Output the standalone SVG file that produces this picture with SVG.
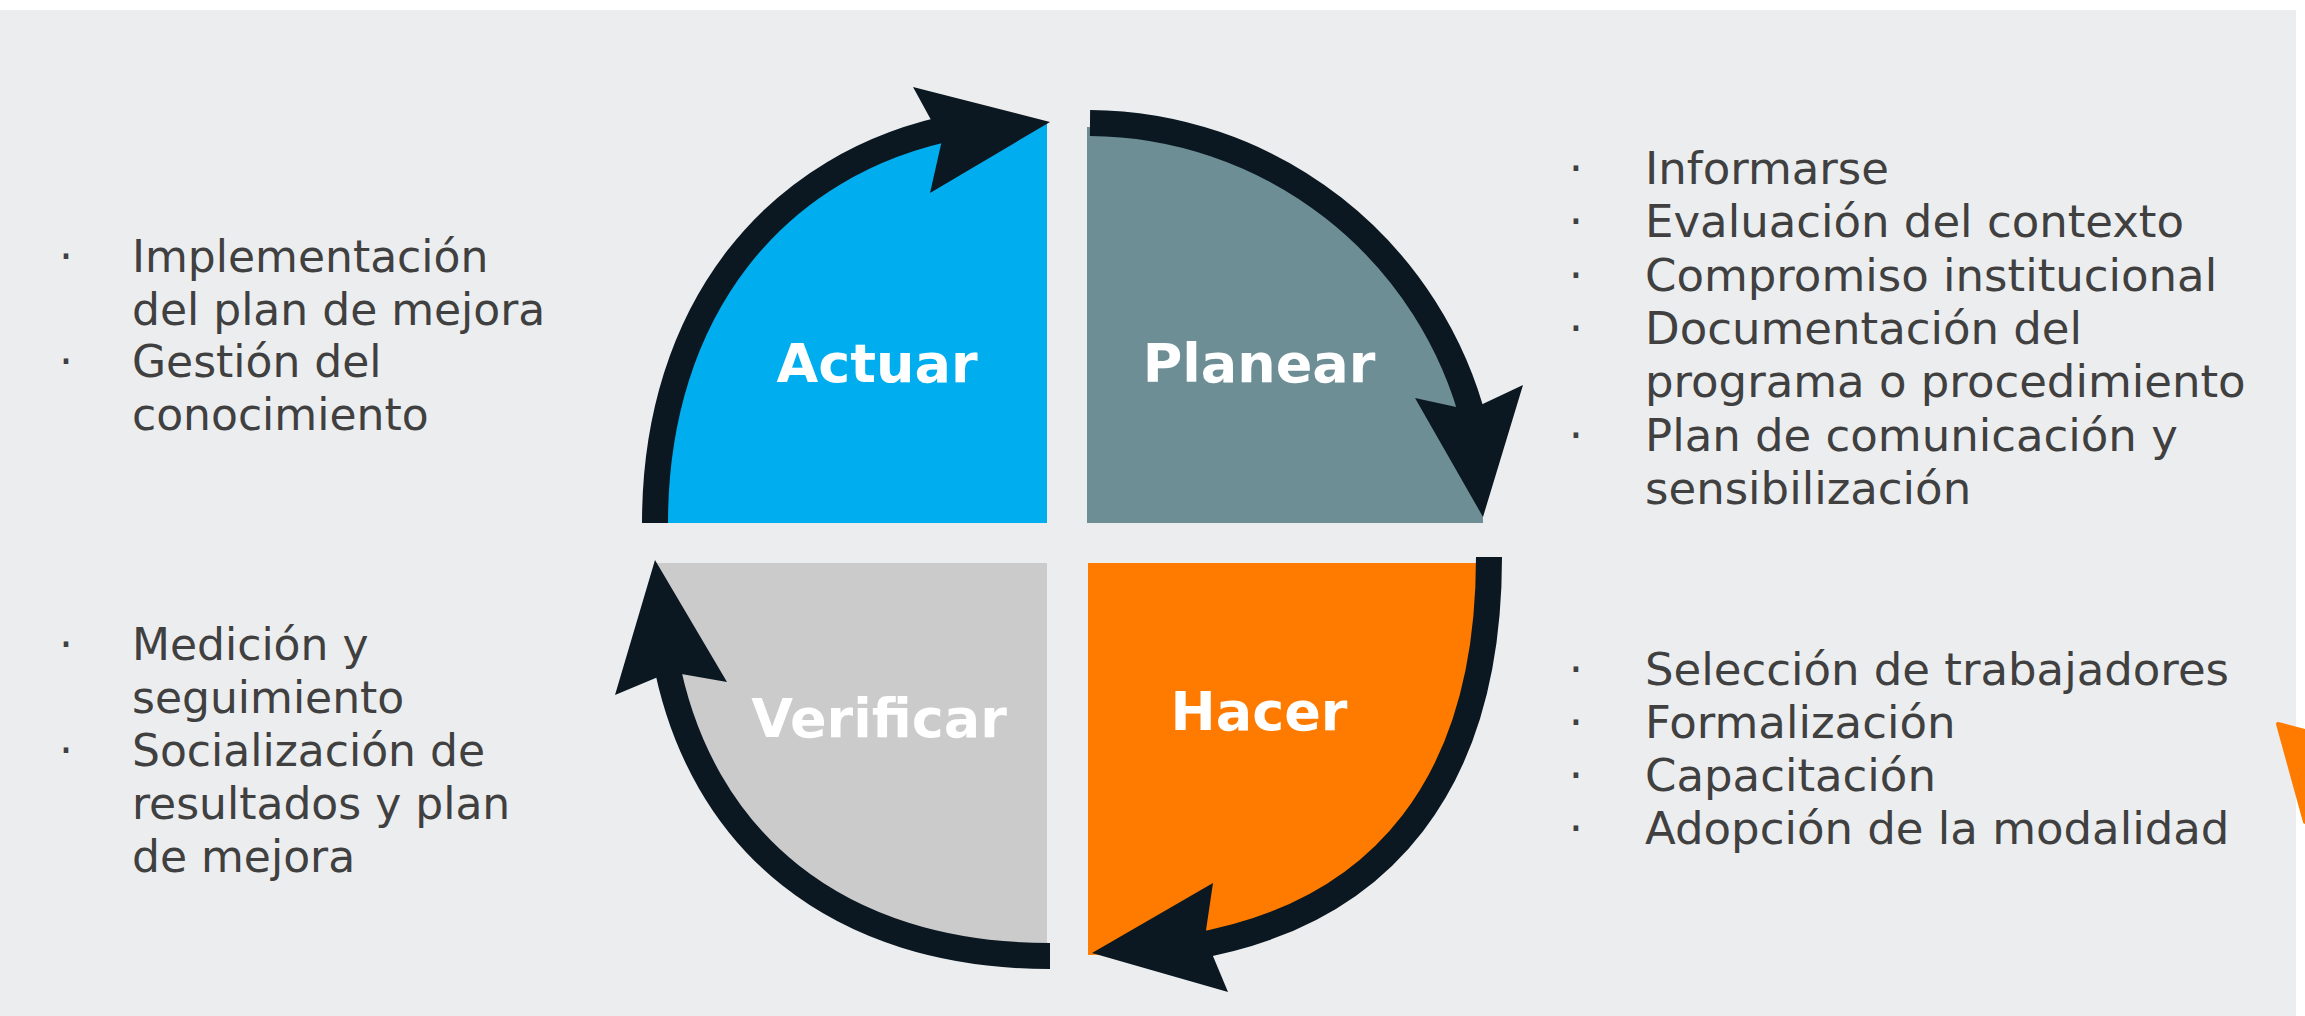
<svg xmlns="http://www.w3.org/2000/svg" width="2305" height="1016" viewBox="0 0 2305 1016">
<style>
.bg{fill:#ECEDEF}
.txt{font-family:"DejaVu Sans","Liberation Sans",sans-serif;font-size:44px;fill:#404040}
.txr{font-family:"DejaVu Sans","Liberation Sans",sans-serif;font-size:45px;fill:#404040}
.bul{text-anchor:middle}
.lbl{font-family:"DejaVu Sans","Liberation Sans",sans-serif;font-weight:bold;font-size:54px;fill:#ffffff;text-anchor:middle}
.arc{fill:none;stroke:#0B1821;stroke-width:26;stroke-linecap:butt}
.head{fill:#0B1821}
</style>
<rect x="0" y="0" width="2305" height="1016" fill="#ffffff"/>
<rect class="bg" x="0" y="10" width="2296" height="1006"/>

<g id="actuar">
<path fill="#00AEEF" d="M1047 523 L655 523 C655 280 812 122 1047 122 Z"/>
<text class="lbl" x="877" y="382">Actuar</text>
</g>
<g id="planear">
<path fill="#6E8E96" d="M1087 523 L1087 127 A396 396 0 0 1 1483 523 Z"/>
<text class="lbl" x="1259" y="382">Planear</text>
</g>
<g id="verificar">
<path fill="#CBCBCC" d="M1047 563 L657 563 C657 800 802 956 1047 956 Z"/>
<text class="lbl" x="879" y="737">Verificar</text>
</g>
<g id="hacer">
<path fill="#FF7B00" d="M1088 563 L1489 563 C1489 817 1348 955 1088 955 Z"/>
<text class="lbl" x="1259" y="730">Hacer</text>
</g>

<g id="connectors">
<path class="arc" d="M655 523 C655 311.6 773.8 161.5 959.5 126"/>
<polygon class="head" points="1050,122 913,87 942,140 930,193"/>
<path class="arc" d="M1090 123 A400 400 0 0 1 1474.6 424.2"/>
<polygon class="head" points="1483,517 1415,398 1470,410 1523,385"/>
<path class="arc" d="M1489 557 C1489 780.6 1384.7 914 1190.2 946.9"/>
<polygon class="head" points="1092,953 1213,883 1205,937 1228,992"/>
<path class="arc" d="M1050 956 C836.7 956 699.6 840.6 665.4 657.6"/>
<polygon class="head" points="655,560 615,695 670,672 727,682"/>
</g>

<g id="list-actuar" class="txt">
<text class="bul" x="66" y="272">·</text>
<text x="132" y="272">Implementación</text>
<text x="132" y="325">del plan de mejora</text>
<text class="bul" x="66" y="377">·</text>
<text x="132" y="377">Gestión del</text>
<text x="132" y="430">conocimiento</text>
</g>

<g id="list-verificar" class="txt">
<text class="bul" x="66" y="660">·</text>
<text x="132" y="660">Medición y</text>
<text x="132" y="713">seguimiento</text>
<text class="bul" x="66" y="766">·</text>
<text x="132" y="766">Socialización de</text>
<text x="132" y="819">resultados y plan</text>
<text x="132" y="872">de mejora</text>
</g>

<g id="list-planear" class="txr">
<text class="bul" x="1576" y="184">·</text>
<text x="1645" y="184">Informarse</text>
<text class="bul" x="1576" y="237">·</text>
<text x="1645" y="237">Evaluación del contexto</text>
<text class="bul" x="1576" y="291">·</text>
<text x="1645" y="291">Compromiso institucional</text>
<text class="bul" x="1576" y="344">·</text>
<text x="1645" y="344">Documentación del</text>
<text x="1645" y="397">programa o procedimiento</text>
<text class="bul" x="1576" y="451">·</text>
<text x="1645" y="451">Plan de comunicación y</text>
<text x="1645" y="504">sensibilización</text>
</g>

<g id="list-hacer" class="txr">
<text class="bul" x="1576" y="685">·</text>
<text x="1645" y="685">Selección de trabajadores</text>
<text class="bul" x="1576" y="738">·</text>
<text x="1645" y="738">Formalización</text>
<text class="bul" x="1576" y="791">·</text>
<text x="1645" y="791">Capacitación</text>
<text class="bul" x="1576" y="844">·</text>
<text x="1645" y="844">Adopción de la modalidad</text>
</g>

<g id="orange-mark">
<polygon fill="#FF7B00" stroke="#FF7B00" stroke-width="4" stroke-linejoin="round" points="2278,724 2305,731 2305,822"/>
</g>
</svg>
